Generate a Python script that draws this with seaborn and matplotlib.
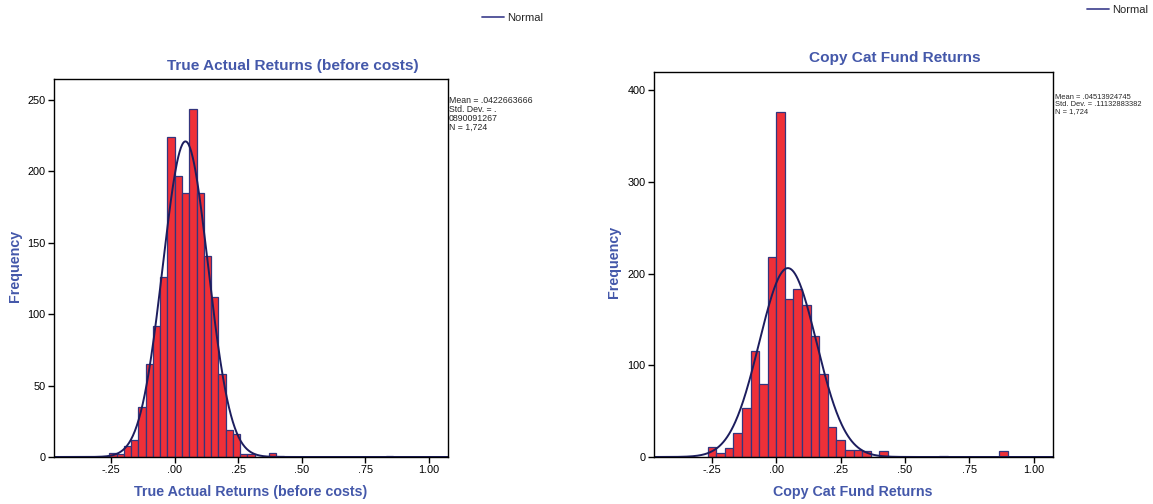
import numpy as np
import pandas as pd
import matplotlib
matplotlib.use("Agg")
import matplotlib.pyplot as plt
from matplotlib.lines import Line2D
import seaborn as sns

# --- data ---
true_width = 0.0286
true_first_bin = -9
true_counts = [3, 2, 8, 12, 35, 65, 92, 126, 224, 197, 185, 244, 185, 141, 112, 58,
               19, 16, 2, 2, 0, 0, 3, 1, 0, 0, 0, 0, 0, 0, 0, 0, 0, 0, 0, 0, 0, 0, 1]
true_mean, true_std, true_n = 0.0422663666, 0.0890091267, 1724

copy_width = 1 / 30
copy_first_bin = -8
copy_counts = [11, 4, 10, 26, 53, 116, 80, 218, 376, 172, 183, 166, 132, 90, 33, 18,
               8, 8, 7, 0, 7, 0, 0, 0, 0, 0, 0, 1, 0, 0, 0, 0, 0, 0, 7]
copy_mean, copy_std, copy_n = 0.04513924745, 0.11132883382, 1724

x_ticks = [-0.25, 0.0, 0.25, 0.50, 0.75, 1.00]
x_tick_labels = ["-.25", ".00", ".25", ".50", ".75", "1.00"]

BAR = "#ef3038"
EDGE = "#34357d"
CURVE = "#1c1d5e"
BLUE = "#4458aa"

sns.set_style("white")
plt.rcParams["font.family"] = ["Liberation Sans", "DejaVu Sans"]

fig = plt.figure(figsize=(11.53, 5.04), dpi=100)
ax1 = fig.add_axes([0.0468, 0.0933, 0.3417, 0.750])
ax2 = fig.add_axes([0.5672, 0.0933, 0.3461, 0.7644])


def draw(ax, counts, first_bin, width, mean, std, n, ymax, yticks):
    idx = np.arange(first_bin, first_bin + len(counts))
    edges = [float(e) for e in np.append(idx, idx[-1] + 1) * width]
    df = pd.DataFrame({"x": (idx + 0.5) * width, "w": counts})
    sns.histplot(data=df, x="x", weights="w", bins=edges, ax=ax,
                 color=BAR, edgecolor=EDGE, linewidth=0.9, alpha=1)
    xs = np.linspace(-0.475, 1.075, 600)
    ys = n * width * np.exp(-0.5 * ((xs - mean) / std) ** 2) / (std * np.sqrt(2 * np.pi))
    sns.lineplot(x=xs, y=ys, ax=ax, color=CURVE, linewidth=1.4)
    ax.set_xlim(-0.475, 1.075)
    ax.set_ylim(0, ymax)
    ax.set_xticks(x_ticks, x_tick_labels)
    ax.set_yticks(yticks)
    ax.tick_params(axis="both", which="both", direction="out", length=4,
                   width=1, labelsize=7.8, colors="black", pad=2,
                   bottom=True, left=True, top=False, right=False)
    for s in ax.spines.values():
        s.set_visible(True)
        s.set_color("black")
        s.set_linewidth(1)
    ax.set_xlabel("")
    ax.set_ylabel("")


draw(ax1, true_counts, true_first_bin, true_width, true_mean, true_std, true_n,
     264.7, [0, 50, 100, 150, 200, 250])
draw(ax2, copy_counts, copy_first_bin, copy_width, copy_mean, copy_std, copy_n,
     420, [0, 100, 200, 300, 400])

ttl = dict(color=BLUE, fontweight="bold", fontsize=11.1)
lab = dict(color=BLUE, fontweight="bold", fontsize=10.3)
fig.text(293 / 1153, 1 - 66 / 504, "True Actual Returns (before costs)", ha="center", va="center", **ttl)
fig.text(895 / 1153, 1 - 58 / 504, "Copy Cat Fund Returns", ha="center", va="center", **ttl)
fig.text(251 / 1153, 1 - 492 / 504, "True Actual Returns (before costs)", ha="center", va="center", **lab)
fig.text(853 / 1153, 1 - 492 / 504, "Copy Cat Fund Returns", ha="center", va="center", **lab)
fig.text(15 / 1153, 1 - 266 / 504, "Frequency", rotation=90, ha="center", va="center", **lab)
fig.text(614 / 1153, 1 - 262 / 504, "Frequency", rotation=90, ha="center", va="center", **lab)

fig.text(449 / 1153, 1 - 96 / 504,
         "Mean = .0422663666\nStd. Dev. = .\n0890091267\nN = 1,724",
         fontsize=6.3, ha="left", va="top", linespacing=1.0)
fig.text(1055 / 1153, 1 - 94 / 504,
         "Mean = .04513924745\nStd. Dev. = .11132883382\nN = 1,724",
         fontsize=5.4, ha="left", va="top", linespacing=1.0)

handle = Line2D([], [], color="#4a4c95", linewidth=1.3)
fig.legend([handle], ["Normal"], loc="center left", bbox_to_anchor=(476 / 1153, 1 - 18 / 504),
           frameon=False, fontsize=8, handlelength=2.0, handletextpad=0.3, borderpad=0)
fig.legend([handle], ["Normal"], loc="center left", bbox_to_anchor=(1081 / 1153, 1 - 10 / 504),
           frameon=False, fontsize=8, handlelength=2.0, handletextpad=0.3, borderpad=0)

fig.savefig("out.png", dpi=100)
